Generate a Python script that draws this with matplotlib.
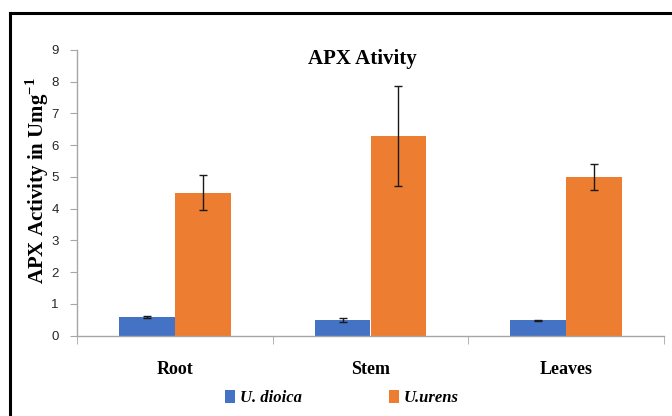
import matplotlib
matplotlib.use("Agg")
import matplotlib.pyplot as plt
from matplotlib.lines import Line2D
from matplotlib.patches import Patch
import numpy as np

plt.rcParams["mathtext.fontset"] = "custom"
plt.rcParams["mathtext.bf"] = "Liberation Serif:bold"
plt.rcParams["mathtext.rm"] = "Liberation Serif:bold"

categories = ["Root", "Stem", "Leaves"]
dioica = [0.58, 0.48, 0.48]
dioica_err = [0.04, 0.06, 0.02]
urens = [4.50, 6.28, 5.00]
urens_err = [0.55, 1.57, 0.40]
series_names = ["U. dioica", "U.urens"]
yticks = list(range(0, 10))

blue = "#4472C4"
orange = "#ED7D31"
grey = "#A6A6A6"

fig = plt.figure(figsize=(6.72, 4.16), dpi=100)
ax = fig.add_axes([77/672, 1-335.5/416, (664-77)/672, (335.5-50)/416])

x = np.arange(len(categories))
w = 0.286
ax.bar(x - w/2, dioica, w, color=blue, yerr=dioica_err, capsize=3,
       error_kw=dict(ecolor="#1a1a1a", elinewidth=1, capthick=1))
ax.bar(x + w/2, urens, w, color=orange, yerr=urens_err, capsize=3,
       error_kw=dict(ecolor="#1a1a1a", elinewidth=1, capthick=1))

ax.set_xlim(-0.5, len(categories) - 0.5)
ax.set_ylim(0, 9)
ax.set_yticks(yticks)
ax.set_yticklabels([str(t) for t in yticks], fontfamily="Liberation Sans",
                   fontsize=9.5, color="#262626")
ax.tick_params(axis="y", direction="out", length=5, color=grey, pad=8)

ax.set_xticks(x)
ax.set_xticklabels(categories, fontfamily="Liberation Serif", fontweight="bold",
                   fontsize=13)
ax.tick_params(axis="x", which="major", length=0, pad=18)
ax.set_xticks(np.arange(-0.5, len(categories)), minor=True)
ax.tick_params(axis="x", which="minor", direction="out", length=6, color=grey)

for s in ["top", "right"]:
    ax.spines[s].set_visible(False)
for s in ["left", "bottom"]:
    ax.spines[s].set_color(grey)
    ax.spines[s].set_linewidth(1)

fig.text(362/672, 1-59/416, "APX Ativity", fontfamily="Liberation Serif",
         fontweight="bold", fontsize=15, ha="center", va="center")
fig.text(37/672, 1-181/416, r"APX Activity in Umg$^{\mathbf{-1}}$",
         fontfamily="Liberation Serif", fontweight="bold", fontsize=15,
         rotation=90, ha="center", va="center")

handles = [Patch(facecolor=blue), Patch(facecolor=orange)]
fig.legend(handles, series_names, loc="center", bbox_to_anchor=(342/672, 1-398/416),
           ncol=2, frameon=False, handlelength=0.6, handleheight=0.8,
           handletextpad=0.3, columnspacing=5.2,
           prop=dict(family="Liberation Serif", weight="bold", style="italic", size=12))

fig.add_artist(Line2D([10/672, 1.0], [1-13/416, 1-13/416], transform=fig.transFigure,
                      color="black", linewidth=2.2))
fig.add_artist(Line2D([10/672, 10/672], [0, 1-13/416], transform=fig.transFigure,
                      color="black", linewidth=2.2))

fig.savefig("out.png", dpi=100)
